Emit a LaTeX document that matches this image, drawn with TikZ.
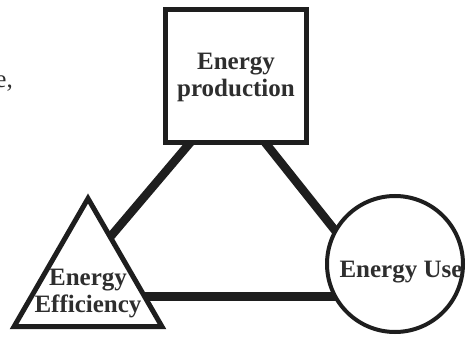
\documentclass[tikz,border=0pt]{standalone}
\usepackage{fontspec}
\setmainfont{Liberation Serif}
\usetikzlibrary{shapes.geometric,calc,backgrounds}
\definecolor{ink}{HTML}{1E1E1E}
\definecolor{txt}{HTML}{2E2E2E}
\begin{document}
\begin{tikzpicture}[x=1pt,y=-1pt,
  shapebox/.style={draw=ink,fill=white,inner sep=0pt,outer sep=0pt},
  lbl/.style={text=txt,font=\bfseries\fontsize{25}{27}\selectfont,align=center,inner sep=0pt},
  link/.style={draw=ink,line width=8.5pt,shorten <=-12pt,shorten >=-12pt}]
\useasboundingbox (0,0) rectangle (467,337);
% shapes
\node[shapebox,rectangle,line width=5.5pt,minimum width=141pt,minimum height=133pt] (prod) at (236,76) {};
\node[shapebox,regular polygon,regular polygon sides=3,line width=5pt,minimum size=171pt] (eff) at (88,284) {};
\node[shapebox,circle,line width=4pt,minimum size=136pt] (use) at (395,264) {};
% texts
\node[lbl] (prodtxt) at (236,77) {Energy\\production};
\node[lbl] (efftxt) at (88,294) {Energy\\Efficiency};
\node[lbl] (usetxt) at (401,272) {Energy Use};
\node[text=txt,font=\fontsize{25}{27}\selectfont,anchor=base east,inner sep=0pt] (frag) at (13,88) {e,};
% connector ends
\coordinate (pa) at ($(prod.south west)!0.176!(prod.south east)$);
\coordinate (pb) at ($(prod.south west)!0.706!(prod.south east)$);
\coordinate (ta) at ($(eff.corner 1)!0.30!(eff.corner 3)$);
\coordinate (tb) at ($(eff.corner 1)!0.766!(eff.corner 3)$);
\coordinate (ua) at (use.151);
\coordinate (ub) at (tb -| use.208);
\begin{scope}[on background layer]
\draw[link] (pa) -- (ta);
\draw[link] (pb) -- (ua);
\draw[link] (tb) -- (ub);
\end{scope}
\end{tikzpicture}
\end{document}
